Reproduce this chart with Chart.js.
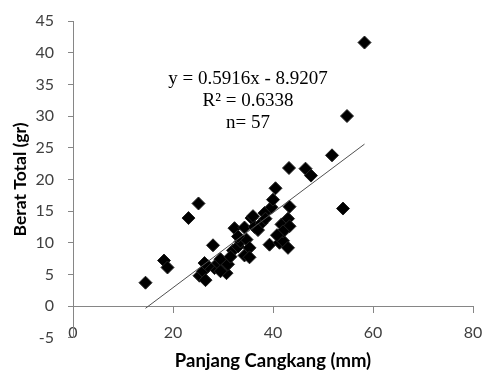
<!DOCTYPE html>
<html lang="en">
<head>
    <title>Berat Total vs Panjang Cangkang</title>
    <script src="https://cdn.jsdelivr.net/npm/chart.js@4/dist/chart.umd.min.js"></script>
    <style>
        html, body { margin: 0; padding: 0; background: #fff; }
        .wrap { width: 484px; height: 372px; }
    </style>
</head>
<body>
    <div class="wrap"><canvas id="scatterChart" width="484" height="372"></canvas></div>
</body>

<script>
    /* Data: panjang cangkang (mm) and berat total (gr) */
    const panjang = [14.5, 18.2, 18.9, 23.1, 25.1, 25.3, 26.0, 26.5, 28.0, 28.3,
                     29.0, 29.5, 30.0, 30.7, 31.0, 32.0, 32.3, 33.0, 33.5, 34.3,
                     34.3, 34.7, 35.3, 35.3, 35.7, 36.3, 37.7, 38.3, 39.3, 39.7,
                     40.0, 40.5, 41.3, 41.7, 41.7, 42.0, 43.0, 43.0, 43.3, 43.3,
                     43.2, 46.5, 47.6, 51.8, 54.0, 54.8, 58.3, 27.0, 29.5, 31.5,
                     33.0, 37.0, 38.5, 42.0, 36.0, 26.3, 40.8];
    const berat = [3.7, 7.2, 6.1, 13.9, 16.2, 4.8, 5.5, 4.1, 9.6, 6.0,
                   6.8, 7.4, 5.8, 5.2, 6.6, 8.8, 12.3, 9.4, 10.2, 12.4,
                   8.0, 10.5, 9.2, 7.7, 13.9, 12.5, 13.1, 14.7, 9.7, 15.6,
                   16.8, 18.6, 10.0, 12.9, 11.5, 10.3, 9.2, 13.8, 12.6, 15.7,
                   21.8, 21.7, 20.6, 23.8, 15.4, 30.0, 41.6, 6.3, 5.5, 7.8,
                   11.0, 12.0, 13.8, 11.8, 14.2, 6.8, 11.2];

    /* Linear trend from the chart's equation */
    const trendSlope = 0.5916;
    const trendIntercept = -8.9207;
    const equationLines = ["y = 0.5916x - 8.9207", "R\u00B2 = 0.6338", "n= 57"];

    const xTitle = "Panjang Cangkang (mm)";
    const yTitle = "Berat Total (gr)";

    const points = panjang.map((x, i) => ({x: x, y: berat[i]}));
    const xLo = Math.min(...panjang);
    const xHi = Math.max(...panjang);
    const trendPoints = [
        {x: xLo, y: trendSlope * xLo + trendIntercept},
        {x: xHi, y: trendSlope * xHi + trendIntercept}
    ];

    const axisGray = '#868686';
    const labelGray = '#404040';

    /* Writes the equation block in the middle of the plot */
    const equationText = {
        id: 'equationText',
        afterDatasetsDraw(chart) {
            const ctx = chart.ctx;
            const xs = chart.scales.x;
            const ys = chart.scales.y;
            const cx = xs.getPixelForValue(35);
            const top = ys.getPixelForValue(35.8);
            ctx.save();
            ctx.font = '19px "Liberation Serif", "Times New Roman", serif';
            ctx.fillStyle = '#000';
            ctx.textAlign = 'center';
            ctx.textBaseline = 'middle';
            equationLines.forEach((t, i) => ctx.fillText(t, cx, top + i * 22));
            ctx.restore();
        }
    };

    let ctx = document.getElementById('scatterChart').getContext('2d');
    let chart = new Chart(ctx, {
        type: 'scatter',
        data: {
            datasets: [{
                label: 'Trend',
                data: trendPoints,
                showLine: true,
                borderColor: '#505050',
                borderWidth: 1,
                pointRadius: 0,
                order: 0
            }, {
                label: 'Berat Total',
                data: points,
                pointStyle: 'rectRot',
                pointRadius: 6.5,
                backgroundColor: '#000',
                borderColor: '#222',
                borderWidth: 1,
                order: 1
            }]
        },
        options: {
            responsive: false,
            animation: false,
            plugins: {
                legend: { display: false },
                tooltip: { enabled: false },
                title: {
                    display: true,
                    position: 'bottom',
                    fullSize: false,
                    text: xTitle,
                    color: '#000',
                    font: { family: 'Lato', weight: 'bold', size: 18.5 },
                    padding: { top: 12, bottom: 0 }
                }
            },
            layout: {
                autoPadding: false,
                padding: { top: 21, right: 11, left: 0, bottom: 0 }
            },
            scales: {
                x: {
                    type: 'linear',
                    position: { y: 0 },
                    min: 0,
                    max: 80,
                    afterFit: function(scale) {
                        scale.paddingLeft = 0;
                        scale.paddingRight = 0;
                    },
                    ticks: {
                        stepSize: 20,
                        color: labelGray,
                        padding: 11,
                        font: { family: 'Lato', size: 16 }
                    },
                    grid: {
                        drawOnChartArea: false,
                        drawTicks: true,
                        tickLength: 6,
                        color: axisGray
                    },
                    border: { display: true, color: axisGray, width: 1 }
                },
                y: {
                    type: 'linear',
                    position: 'left',
                    min: -5,
                    max: 45,
                    afterFit: function(scale) {
                        scale.width = 73;
                        scale.paddingTop = 0;
                        scale.paddingBottom = 0;
                    },
                    ticks: {
                        stepSize: 5,
                        color: labelGray,
                        padding: 14,
                        font: { family: 'Lato', size: 16 }
                    },
                    grid: {
                        drawOnChartArea: false,
                        drawTicks: true,
                        tickLength: 5,
                        color: axisGray
                    },
                    border: { display: true, color: axisGray, width: 1 },
                    title: {
                        display: true,
                        text: yTitle,
                        color: '#000',
                        font: { family: 'Lato', weight: 'bold', size: 17.5 },
                        padding: { top: 10, bottom: 0 }
                    }
                }
            }
        },
        plugins: [equationText]
    });
</script>
</html>
